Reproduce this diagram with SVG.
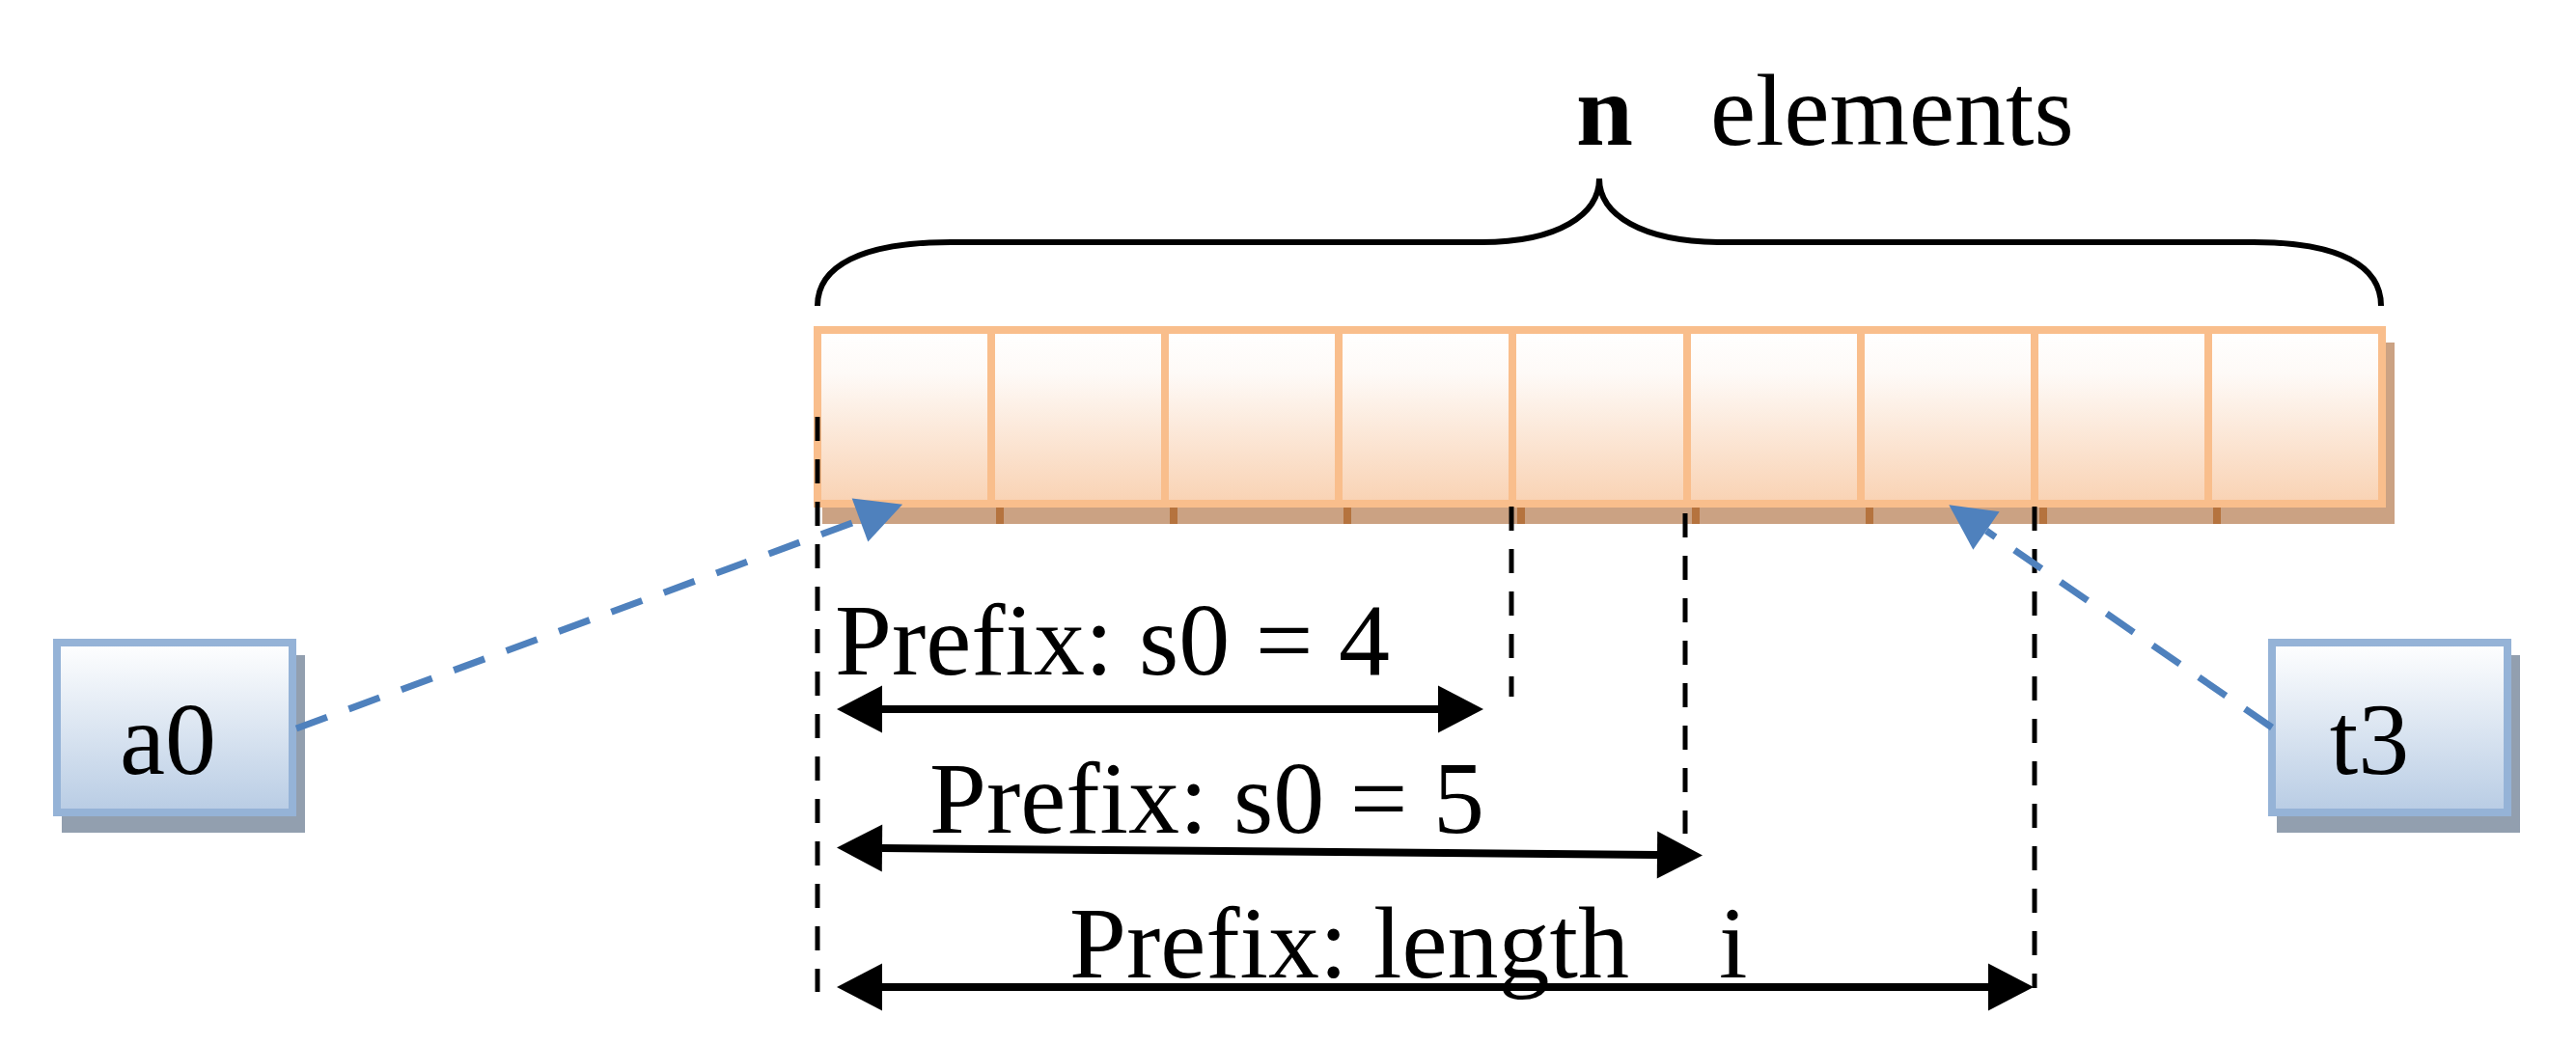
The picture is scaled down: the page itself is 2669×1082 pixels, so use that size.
<svg xmlns="http://www.w3.org/2000/svg" width="2669" height="1082" viewBox="0 0 2669 1082">
<style>
.lbl{font-family:"Liberation Serif","Times New Roman",serif;font-size:106px;fill:#000}
.cellline{stroke:#F9BE8C;stroke-width:8}
.shtick{stroke:#B5733E;stroke-width:8}
.vdash{stroke:#000;stroke-width:5;stroke-dasharray:25 19;fill:none}
.blue{stroke:#4F81BD;stroke-width:7;stroke-dasharray:34 24;fill:none}
.dbl{stroke:#000;stroke-width:8;fill:none}
</style>
<defs>
<linearGradient id="gOrange" x1="0" y1="0" x2="0" y2="1">
<stop offset="0" stop-color="#FFFFFF"/>
<stop offset="0.25" stop-color="#FEFAF7"/>
<stop offset="1" stop-color="#F9D2B3"/>
</linearGradient>
<linearGradient id="gBlue" x1="0" y1="0" x2="0" y2="1">
<stop offset="0" stop-color="#FFFFFF"/>
<stop offset="1" stop-color="#B8CCE4"/>
</linearGradient>
<marker id="blk" markerUnits="userSpaceOnUse" markerWidth="60" markerHeight="60" refX="0" refY="0" orient="auto-start-reverse" overflow="visible">
<path d="M0,-24.5 L47,0 L0,24.5 z" fill="#000"/>
</marker>
<marker id="blu" markerUnits="userSpaceOnUse" markerWidth="60" markerHeight="60" refX="0" refY="0" orient="auto" overflow="visible">
<path d="M0,-24 L47,0 L0,24 z" fill="#4F81BD"/>
</marker>
</defs>
<rect width="2669" height="1082" fill="#FFFFFF"/>

<g id="title">
<text class="lbl" y="150"><tspan x="1633" font-weight="bold">n</tspan><tspan x="1772">elements</tspan></text>
</g>

<g id="brace">
<path d="M847,317 C847,276 892,251 985,251 L1535,251 C1615,251 1657,222 1657,185 C1657,222 1700,251 1785,251 L2335,251 C2425,251 2467,276 2467,317" fill="none" stroke="#000" stroke-width="6"/>
</g>

<g id="array">
<rect x="852" y="355" width="1629" height="188" fill="#CBA283"/>
<g class="shtick">
<line x1="1036" y1="526" x2="1036" y2="543"/>
<line x1="1216" y1="526" x2="1216" y2="543"/>
<line x1="1396" y1="526" x2="1396" y2="543"/>
<line x1="1576" y1="526" x2="1576" y2="543"/>
<line x1="1757" y1="526" x2="1757" y2="543"/>
<line x1="1937" y1="526" x2="1937" y2="543"/>
<line x1="2117" y1="526" x2="2117" y2="543"/>
<line x1="2297" y1="526" x2="2297" y2="543"/>
</g>
<rect x="847" y="342" width="1621" height="180" fill="url(#gOrange)" stroke="#F9BE8C" stroke-width="8"/>
<g class="cellline">
<line x1="1027" y1="342" x2="1027" y2="522"/>
<line x1="1207" y1="342" x2="1207" y2="522"/>
<line x1="1387" y1="342" x2="1387" y2="522"/>
<line x1="1567" y1="342" x2="1567" y2="522"/>
<line x1="1748" y1="342" x2="1748" y2="522"/>
<line x1="1928" y1="342" x2="1928" y2="522"/>
<line x1="2108" y1="342" x2="2108" y2="522"/>
<line x1="2288" y1="342" x2="2288" y2="522"/>
</g>
</g>

<g id="a0">
<rect x="64" y="679" width="252" height="184" fill="#929FAF"/>
<rect x="59" y="666" width="244" height="176" fill="url(#gBlue)" stroke="#95B3D7" stroke-width="8"/>
<text class="lbl" x="174" y="802" text-anchor="middle">a0</text>
</g>

<g id="t3">
<rect x="2359" y="679" width="252" height="184" fill="#929FAF"/>
<rect x="2354" y="666" width="244" height="176" fill="url(#gBlue)" stroke="#95B3D7" stroke-width="8"/>
<text class="lbl" x="2455" y="802" text-anchor="middle">t3</text>
</g>

<g id="labels">
<text class="lbl" x="865" y="699">Prefix: s0 = 4</text>
<text class="lbl" x="963" y="863">Prefix: s0 = 5</text>
<text class="lbl" y="1013"><tspan x="1108">Prefix: length</tspan><tspan x="1781">i</tspan></text>
</g>

<g id="connectors">
<line class="vdash" x1="847" y1="432" x2="847" y2="1028"/>
<line class="vdash" x1="1566" y1="525" x2="1566" y2="722"/>
<line class="vdash" x1="1746" y1="532" x2="1746" y2="864"/>
<line class="vdash" x1="2108" y1="525" x2="2108" y2="1024"/>
<line class="dbl" x1="914" y1="735" x2="1490" y2="735" marker-start="url(#blk)" marker-end="url(#blk)"/>
<line class="dbl" x1="914" y1="879" x2="1717" y2="886" marker-start="url(#blk)" marker-end="url(#blk)"/>
<line class="dbl" x1="914" y1="1023" x2="2060" y2="1023" marker-start="url(#blk)" marker-end="url(#blk)"/>
<line class="blue" x1="307" y1="755" x2="891" y2="539" marker-end="url(#blu)"/>
<line class="blue" x1="2354" y1="754" x2="2058" y2="550" marker-end="url(#blu)"/>
</g>
</svg>
